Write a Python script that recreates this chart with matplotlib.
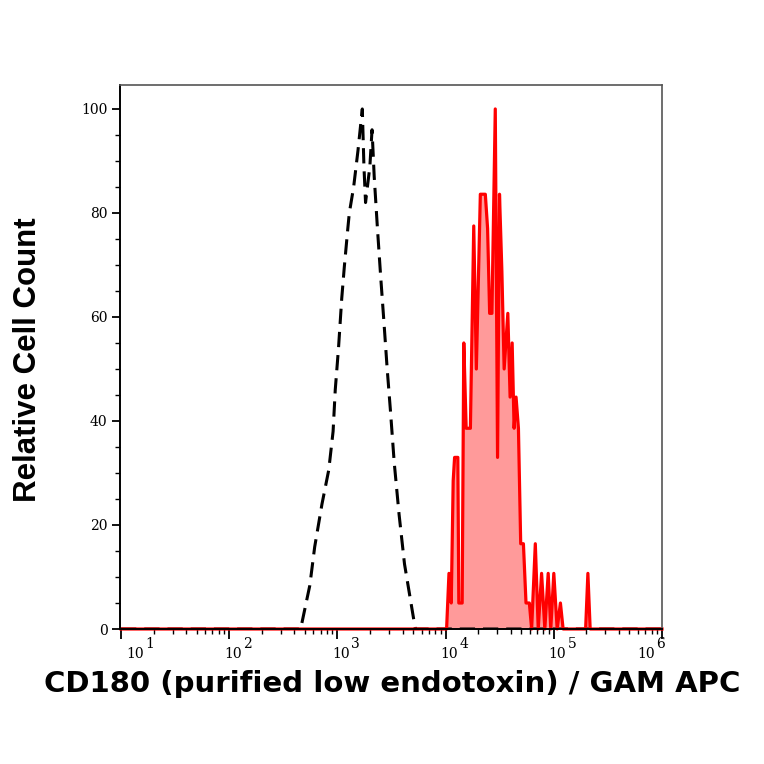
import matplotlib.pyplot as plt
import numpy as np
from matplotlib.ticker import LogLocator, MultipleLocator, NullFormatter

# isotype control (dashed black): log10 intensity / relative count
ctrl_log10 = [1.0, 2.66, 2.745, 2.79, 2.857, 2.92, 2.96, 2.98, 3.01, 3.04, 3.064, 3.096,
              3.11, 3.15, 3.19, 3.23, 3.245, 3.26, 3.30, 3.32, 3.34, 3.37, 3.40, 3.43,
              3.46, 3.49, 3.525, 3.57, 3.62, 3.68, 3.72, 6.0]
ctrl_count = [0, 0, 8.4, 15.8, 24, 30.6, 38, 46, 54, 63.6, 69.7, 77,
              80, 85, 92, 100, 89, 82, 89, 96, 87, 77, 67.7, 59,
              50, 42, 32, 22, 12.5, 5, 0, 0]

# CD180 stained sample (red filled)
red_log10 = [1.0, 4.0, 4.009, 4.031, 4.052, 4.070, 4.083, 4.113, 4.122, 4.153, 4.168,
             4.19, 4.229, 4.26, 4.284, 4.321, 4.367, 4.388, 4.407, 4.428, 4.459, 4.48,
             4.498, 4.52, 4.541, 4.575, 4.596, 4.615, 4.633, 4.651, 4.673, 4.694, 4.719,
             4.743, 4.774, 4.795, 4.829, 4.856, 4.887, 4.917, 4.948, 4.972, 5.0, 5.031,
             5.061, 5.086, 5.294, 5.315, 5.336, 6.0]
red_count = [0, 0, 0, 10.7, 5, 28.5, 33, 33, 5, 5, 55,
             38.6, 38.6, 77.5, 50, 83.6, 83.6, 77, 60.7, 60.7, 100, 33,
             83.6, 68.8, 50, 60.7, 44.6, 55, 38.6, 44.6, 38.6, 16.4, 16.4,
             5, 5, 0, 16.4, 0, 10.7, 0, 10.7, 0, 10.7, 0,
             5, 0, 0, 10.7, 0, 0]

decades = [1, 2, 3, 4, 5, 6]

ctrl_x = 10 ** np.array(ctrl_log10)
red_x = 10 ** np.array(red_log10)

fig = plt.figure(figsize=(7.64, 7.64), dpi=100)
ax = fig.add_axes([0.157, 0.1767, 0.7095, 0.712])

# fill first so the dashed control line shows through at the baseline
ax.fill_between(red_x, red_count, 0, color='#ff9a9a', lw=0)
ax.plot(ctrl_x, ctrl_count, color='black', lw=2.2, dashes=(5, 2.6))
ax.plot(red_x, red_count, color='#ff0000', lw=2.3, clip_on=False)

ax.set_xscale('log')
ax.set_xlim(10 ** 0.99, 10 ** 6.0)
ax.set_ylim(0, 104.6)

ax.xaxis.set_major_locator(LogLocator(base=10, numticks=10))
ax.xaxis.set_minor_locator(LogLocator(base=10, subs=np.arange(2, 10), numticks=20))
ax.xaxis.set_major_formatter(NullFormatter())
ax.xaxis.set_minor_formatter(NullFormatter())
ax.yaxis.set_major_locator(MultipleLocator(20))
ax.yaxis.set_minor_locator(MultipleLocator(5))

ax.tick_params(axis='x', which='major', length=7, width=1.3, direction='out')
ax.tick_params(axis='x', which='minor', length=3.5, width=1, direction='out')
ax.tick_params(axis='y', which='major', length=6, width=1.3, direction='out',
               labelsize=10, pad=3)
ax.tick_params(axis='y', which='minor', length=3.5, width=1, direction='out')
for lab in ax.get_yticklabels():
    lab.set_family('DejaVu Serif')

# x tick labels as "10" with a full size exponent, like the original
for d in decades:
    shift = 0
    if d == decades[0]:
        shift = 7.2
    elif d == decades[-1]:
        shift = -14.4
    ax.annotate('10', xy=(10 ** d, 0), xycoords=('data', 'axes fraction'),
                xytext=(-3.6 + shift, -20.9), textcoords='offset points',
                ha='left', va='baseline', family='DejaVu Serif', fontsize=10,
                annotation_clip=False)
    ax.annotate(str(d), xy=(10 ** d, 0), xycoords=('data', 'axes fraction'),
                xytext=(10 + shift, -13.5), textcoords='offset points',
                ha='left', va='baseline', family='DejaVu Serif', fontsize=10,
                annotation_clip=False)

for side in ['top', 'right']:
    ax.spines[side].set_color('#555555')
    ax.spines[side].set_linewidth(1.2)
for side in ['left', 'bottom']:
    ax.spines[side].set_linewidth(1.4)

fig.text(0.0366, 0.5295, 'Relative Cell Count', rotation=90, ha='center', va='center',
         family='Liberation Sans', fontweight='bold', fontsize=22.5)
fig.text(0.513, 1 - 692 / 764, 'CD180 (purified low endotoxin) / GAM APC',
         ha='center', va='baseline', family='DejaVu Sans', fontweight='bold',
         fontsize=21)

fig.savefig('out.png', dpi=100)
